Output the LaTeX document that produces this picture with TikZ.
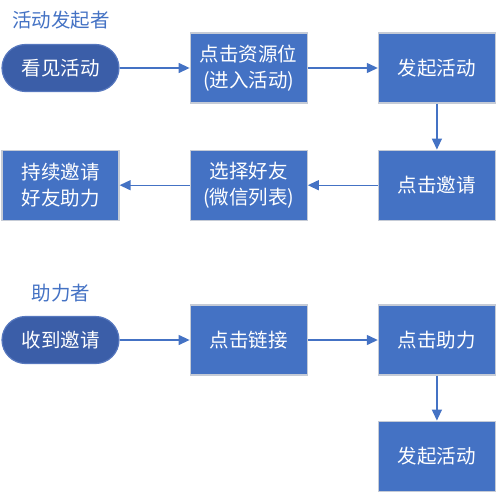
\documentclass[tikz,border=0pt]{standalone}
\usepackage{fontspec}
\setmainfont{Noto Sans CJK SC}
\usetikzlibrary{arrows.meta,positioning}

\definecolor{boxblue}{HTML}{4472C4}
\definecolor{pillblue}{HTML}{3B5EA8}
\definecolor{pillrim}{HTML}{5677BE}
\definecolor{rimgray}{HTML}{C5CBD6}

\begin{document}
\begin{tikzpicture}[
  x=1pt, y=1pt,
  font=\fontsize{19.5}{26}\selectfont, >={Triangle[length=11pt,width=10pt]},
  stepbox/.style={draw=rimgray, line width=1.2pt, fill=boxblue, text=white, align=center, minimum width=117pt, minimum height=70pt, inner sep=2pt},
  pill/.style={draw=pillrim, line width=1.2pt, fill=pillblue, text=white, rounded corners=23.5pt, minimum width=117pt, minimum height=47pt, inner sep=2pt},
  role/.style={text=boxblue},
  flow/.style={->, draw=boxblue, line width=1.3pt},
]
\useasboundingbox (0,0) rectangle (497,-492);

% initiator lane
\node[role] (initlbl) at (61,-20) {活动发起者};
\node[pill] (seeact) at (60.5,-68) {看见活动};
\node[stepbox, right=70pt of seeact] (clickres) {点击资源位\\(进入活动)};
\node[stepbox, right=70pt of clickres] (launch) {发起活动};
\node[stepbox, below=46pt of launch] (invite) {点击邀请};
\node[stepbox, left=70pt of invite] (pickfriend) {选择好友\\(微信列表)};
\node[stepbox, left=70pt of pickfriend] (keepinvite) {持续邀请\\好友助力};

% helper lane
\node[role] (helplbl) at (61,-293) {助力者};
\node[pill] (gotinvite) at (60.5,-340) {收到邀请};
\node[stepbox, right=70pt of gotinvite] (clicklink) {点击链接};
\node[stepbox, right=70pt of clicklink] (clickhelp) {点击助力};
\node[stepbox, below=45pt of clickhelp] (launch2) {发起活动};

% arrows
\draw[flow] (seeact) -- (clickres);
\draw[flow] (clickres) -- (launch);
\draw[flow] (launch) -- (invite);
\draw[flow] (invite) -- (pickfriend);
\draw[flow] (pickfriend) -- (keepinvite);
\draw[flow] (gotinvite) -- (clicklink);
\draw[flow] (clicklink) -- (clickhelp);
\draw[flow] (clickhelp) -- (launch2);

\end{tikzpicture}
\end{document}
